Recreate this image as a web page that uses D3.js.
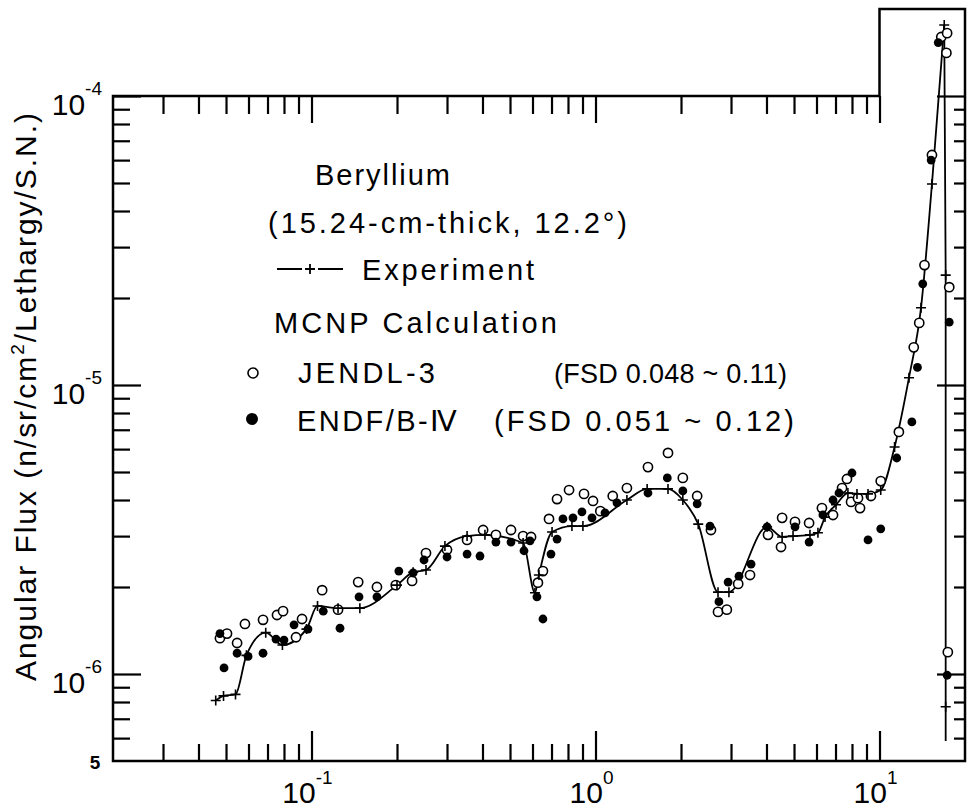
<!DOCTYPE html>
<html>
<head>
<meta charset="utf-8">
<script src="https://cdn.jsdelivr.net/npm/d3@7"></script>
<style>
    body { margin: 0; background: #fff; }
    text { font-family: "Liberation Sans", Arial, sans-serif; fill: #000; }
</style>
</head>
<body>
<script>
// neutron energy (MeV) and angular flux

// experiment: line with + marks
const expEnergy = [0.046, 0.049, 0.054, 0.059, 0.069, 0.079, 0.096, 0.105, 0.124, 0.148,
    0.200, 0.228, 0.253, 0.295, 0.353, 0.408, 0.556, 0.612, 0.632, 0.703,
    0.826, 0.903, 1.29, 1.52, 1.80, 2.03, 2.30, 2.70, 2.95, 4.02,
    4.54, 4.96, 5.69, 6.07, 6.43, 7.03, 7.74, 8.33, 9.11, 10.1,
    11.3, 12.7, 14.0, 15.3, 16.9];
const expFlux = [8.1e-7, 8.4e-7, 8.5e-7, 1.16e-6, 1.39e-6, 1.26e-6, 1.43e-6, 1.72e-6, 1.69e-6, 1.69e-6,
    2.03e-6, 2.25e-6, 2.29e-6, 2.77e-6, 3.00e-6, 3.03e-6, 2.84e-6, 1.91e-6, 2.20e-6, 3.10e-6,
    3.25e-6, 3.25e-6, 4.00e-6, 4.37e-6, 4.37e-6, 4.00e-6, 3.30e-6, 1.92e-6, 1.92e-6, 3.23e-6,
    2.98e-6, 3.00e-6, 3.03e-6, 3.08e-6, 3.49e-6, 3.85e-6, 4.23e-6, 4.20e-6, 4.20e-6, 4.33e-6,
    6.10e-6, 1.06e-5, 1.85e-5, 4.96e-5, 1.76e-4];
// the steep fall just above the peak
const dropEnergy = 17.1;
const dropFlux = [2.40e-5, 7.7e-7, 5.86e-7];
const dropMarked = [2.40e-5, 7.7e-7];

// MCNP with JENDL-3 (open circles)
const jendlEnergy = [0.0476, 0.0504, 0.0547, 0.0583, 0.0675, 0.0756, 0.0794, 0.0882, 0.0926, 0.109,
    0.124, 0.146, 0.170, 0.198, 0.226, 0.253, 0.300, 0.353, 0.402, 0.446,
    0.504, 0.556, 0.593, 0.627, 0.653, 0.686, 0.732, 0.807, 0.911, 0.980,
    1.04, 1.15, 1.29, 1.53, 1.80, 2.03, 2.28, 2.55, 2.70, 2.90,
    3.18, 3.50, 4.05, 4.50, 4.54, 5.04, 5.65, 6.27, 6.86, 7.38,
    7.68, 7.94, 8.40, 8.54, 9.33, 10.1, 11.7, 13.2, 13.8, 14.4,
    15.3, 16.5, 17.2, 17.3, 17.6, 17.4];
const jendlFlux = [1.33e-6, 1.38e-6, 1.28e-6, 1.49e-6, 1.54e-6, 1.60e-6, 1.65e-6, 1.34e-6, 1.55e-6, 1.95e-6,
    1.67e-6, 2.08e-6, 2.00e-6, 2.03e-6, 2.10e-6, 2.62e-6, 2.69e-6, 2.91e-6, 3.15e-6, 3.03e-6,
    3.15e-6, 3.00e-6, 2.98e-6, 2.07e-6, 2.27e-6, 3.44e-6, 4.03e-6, 4.33e-6, 4.20e-6, 3.97e-6,
    3.66e-6, 4.13e-6, 4.40e-6, 5.20e-6, 5.82e-6, 4.77e-6, 4.13e-6, 3.15e-6, 1.64e-6, 1.67e-6,
    2.05e-6, 2.20e-6, 3.03e-6, 2.75e-6, 3.47e-6, 3.36e-6, 3.33e-6, 3.75e-6, 3.55e-6, 4.40e-6,
    4.73e-6, 3.94e-6, 4.06e-6, 3.75e-6, 4.13e-6, 4.65e-6, 6.88e-6, 1.35e-5, 1.64e-5, 2.60e-5,
    6.25e-5, 1.60e-4, 1.41e-4, 1.65e-4, 2.18e-5, 1.19e-6];

// MCNP with ENDF/B-IV (filled circles)
const endfEnergy = [0.0476, 0.0492, 0.0547, 0.0598, 0.0675, 0.0750, 0.0800, 0.0868, 0.0972, 0.110,
    0.126, 0.147, 0.170, 0.203, 0.228, 0.249, 0.300, 0.353, 0.392, 0.446,
    0.504, 0.560, 0.588, 0.622, 0.653, 0.697, 0.732, 0.768, 0.833, 0.896,
    0.972, 1.08, 1.19, 1.53, 1.79, 2.03, 2.28, 2.53, 2.72, 2.93,
    3.20, 3.53, 4.02, 5.04, 5.65, 6.32, 6.86, 7.20, 8.00, 9.11,
    10.1, 11.5, 13.0, 13.6, 14.2, 15.2, 16.1, 17.6, 17.3];
const endfFlux = [1.38e-6, 1.05e-6, 1.18e-6, 1.15e-6, 1.18e-6, 1.32e-6, 1.31e-6, 1.48e-6, 1.43e-6, 1.65e-6,
    1.44e-6, 1.85e-6, 1.85e-6, 2.27e-6, 2.24e-6, 2.48e-6, 2.54e-6, 2.60e-6, 2.56e-6, 2.86e-6,
    2.86e-6, 2.67e-6, 2.89e-6, 1.85e-6, 1.55e-6, 2.60e-6, 2.93e-6, 3.44e-6, 3.47e-6, 3.64e-6,
    3.47e-6, 3.61e-6, 3.91e-6, 4.23e-6, 4.77e-6, 4.30e-6, 3.88e-6, 3.25e-6, 1.78e-6, 2.08e-6,
    2.18e-6, 2.40e-6, 3.23e-6, 3.23e-6, 2.86e-6, 3.55e-6, 4.00e-6, 4.23e-6, 4.96e-6, 2.91e-6,
    3.18e-6, 5.59e-6, 7.45e-6, 1.15e-5, 2.24e-5, 6.00e-5, 1.53e-4, 1.65e-5, 9.9e-7];

// labelled decades
const xDecades = [0.1, 1, 10];
const xExponents = ["-1", "0", "1"];
const yDecades = [1e-4, 1e-5, 1e-6];
const yExponents = ["-4", "-5", "-6"];

const margin = { top: 96, right: 3, bottom: 47, left: 113 },
    width = 968 - margin.left - margin.right,
    height = 808 - margin.top - margin.bottom;

const svg = d3.select("body")
    .append("svg")
    .attr("width", width + margin.left + margin.right)
    .attr("height", height + margin.top + margin.bottom)
    .append("g")
    .attr("transform", "translate(" + margin.left + "," + margin.top + ")");

const x = d3.scaleLog().domain([0.02, 20]).range([0, width]);
const y = d3.scaleLog().domain([5e-7, 1e-4]).range([height, 0]);

const isDecade = d => Math.abs(Math.log10(d) - Math.round(Math.log10(d))) < 1e-6;

// tick values: bottom/top stop at 10, left/right run up to 1e-4
const xTicks = x.ticks().filter(d => d > 0.025 && d < 10.5);
const yTicks = y.ticks().filter(d => d > 5.5e-7 && d < 1.05e-4);
const xMinor = xTicks.filter(d => !isDecade(d)), xMajor = xTicks.filter(isDecade);
const yMinor = yTicks.filter(d => !isDecade(d)), yMajor = yTicks.filter(isDecade);

function addAxis(axis, transform) {
    const g = svg.append("g").attr("transform", transform).call(axis);
    g.select(".domain").remove();
    g.selectAll("text").remove();
    g.selectAll("line").attr("stroke", "#000").attr("stroke-width", 2.2);
}

// all ticks point into the plot
addAxis(d3.axisBottom(x).tickValues(xMinor).tickSize(-17), "translate(0," + height + ")");
addAxis(d3.axisBottom(x).tickValues(xMajor).tickSize(-30), "translate(0," + height + ")");
addAxis(d3.axisTop(x).tickValues(xMinor).tickSize(-18), "translate(0,0)");
addAxis(d3.axisTop(x).tickValues(xMajor).tickSize(-27), "translate(0,0)");
addAxis(d3.axisLeft(y).tickValues(yMinor).tickSize(-17), "translate(0,0)");
addAxis(d3.axisLeft(y).tickValues(yMajor).tickSize(-28), "translate(0,0)");
addAxis(d3.axisRight(y).tickValues(yMinor).tickSize(-11), "translate(" + width + ",0)");
addAxis(d3.axisRight(y).tickValues(yMajor).tickSize(-28), "translate(" + width + ",0)");

// frame, with the raised part above 10 MeV
const frame = [[0.02, 5e-7], [0.02, 1e-4], [10, 1e-4], [10, 2e-4], [20, 2e-4], [20, 5e-7]];
svg.append("path")
    .attr("d", d3.line().x(d => x(d[0])).y(d => y(d[1]))(frame) + "Z")
    .attr("fill", "none")
    .attr("stroke", "#000")
    .attr("stroke-width", 2.5);

// experiment curve
const expData = d3.zip(expEnergy, expFlux);
svg.append("path")
    .attr("d", d3.line().curve(d3.curveMonotoneX).x(d => x(d[0])).y(d => y(d[1]))(expData))
    .attr("fill", "none")
    .attr("stroke", "#000")
    .attr("stroke-width", 1.8);

const peak = expData[expData.length - 1];
svg.append("path")
    .attr("d", d3.line().x(d => x(d[0])).y(d => y(d[1]))([peak].concat(dropFlux.map(f => [dropEnergy, f]))))
    .attr("fill", "none")
    .attr("stroke", "#000")
    .attr("stroke-width", 1.8);

// JENDL-3
svg.selectAll(".jendl")
    .data(d3.zip(jendlEnergy, jendlFlux))
    .enter()
    .append("circle")
    .attr("class", "jendl")
    .attr("cx", d => x(d[0]))
    .attr("cy", d => y(d[1]))
    .attr("r", 4.6)
    .attr("fill", "#fff")
    .attr("stroke", "#000")
    .attr("stroke-width", 1.6);

// ENDF/B-IV
svg.selectAll(".endf")
    .data(d3.zip(endfEnergy, endfFlux))
    .enter()
    .append("circle")
    .attr("class", "endf")
    .attr("cx", d => x(d[0]))
    .attr("cy", d => y(d[1]))
    .attr("r", 4.4)
    .attr("fill", "#000");

// + marks of the experiment
const plus = "M-5,0H5M0,-5V5";
svg.selectAll(".exp")
    .data(expData.concat(dropMarked.map(f => [dropEnergy, f])))
    .enter()
    .append("path")
    .attr("class", "exp")
    .attr("d", plus)
    .attr("transform", d => "translate(" + x(d[0]) + "," + y(d[1]) + ")")
    .attr("stroke", "#000")
    .attr("stroke-width", 1.6);

// decade labels 10^n
const xLab = svg.selectAll(".xlab")
    .data(xDecades)
    .enter()
    .append("text")
    .attr("class", "xlab")
    .attr("x", d => x(d) - 4)
    .attr("y", height + 42)
    .attr("text-anchor", "middle")
    .style("font-size", "30px")
    .text("10");
xLab.append("tspan")
    .attr("dy", -19)
    .style("font-size", "19px")
    .text((d, i) => xExponents[i]);

const yLab = svg.selectAll(".ylab")
    .data(yDecades)
    .enter()
    .append("text")
    .attr("class", "ylab")
    .attr("x", -11)
    .attr("y", d => y(d) + 19)
    .attr("text-anchor", "end")
    .style("font-size", "30px")
    .text("10");
yLab.append("tspan")
    .attr("dy", -20)
    .style("font-size", "19px")
    .text((d, i) => yExponents[i]);

svg.append("text")
    .attr("x", -18)
    .attr("y", y(5e-7) + 8)
    .attr("text-anchor", "middle")
    .style("font-size", "19px")
    .style("font-weight", "bold")
    .text("5");

// y axis title
const yTitle = svg.append("text")
    .attr("transform", "translate(-77," + (y(1e-5) + 12) + ") rotate(-90)")
    .attr("text-anchor", "middle")
    .attr("textLength", 568)
    .attr("lengthAdjust", "spacing")
    .style("font-size", "30px");
yTitle.append("tspan").text("Angular Flux (n/sr/cm");
yTitle.append("tspan").attr("dy", -12).style("font-size", "19px").text("2");
yTitle.append("tspan").attr("dy", 12).text("/Lethargy/S.N.)");

// legend block
function legendText(px, py, len, str, size) {
    svg.append("text")
        .attr("x", px)
        .attr("y", py)
        .attr("textLength", len)
        .attr("lengthAdjust", "spacing")
        .style("font-size", (size || 29) + "px")
        .text(str);
}
legendText(202, 89, 135, "Beryllium");
legendText(155, 137, 359, "(15.24-cm-thick, 12.2°)");

// —+— sample of the experiment curve
svg.append("path")
    .attr("d", "M164,173H189M205,173H230")
    .attr("stroke", "#000").attr("stroke-width", 1.8);
svg.append("path")
    .attr("d", plus)
    .attr("transform", "translate(197,173)")
    .attr("stroke", "#000").attr("stroke-width", 1.8);
legendText(249, 184, 172, "Experiment");

legendText(161, 237, 283, "MCNP Calculation");

svg.append("circle")
    .attr("cx", 140).attr("cy", 277).attr("r", 5)
    .attr("fill", "#fff").attr("stroke", "#000").attr("stroke-width", 1.6);
legendText(185, 287, 137, "JENDL-3");
legendText(441, 287, 233, "(FSD 0.048 ~ 0.11)", 27);

svg.append("circle")
    .attr("cx", 139).attr("cy", 323).attr("r", 6)
    .attr("fill", "#000");
legendText(184, 335, 160, "ENDF/B-Ⅳ");
legendText(381, 335, 300, "(FSD 0.051 ~ 0.12)");
</script>
</body>
</html>
